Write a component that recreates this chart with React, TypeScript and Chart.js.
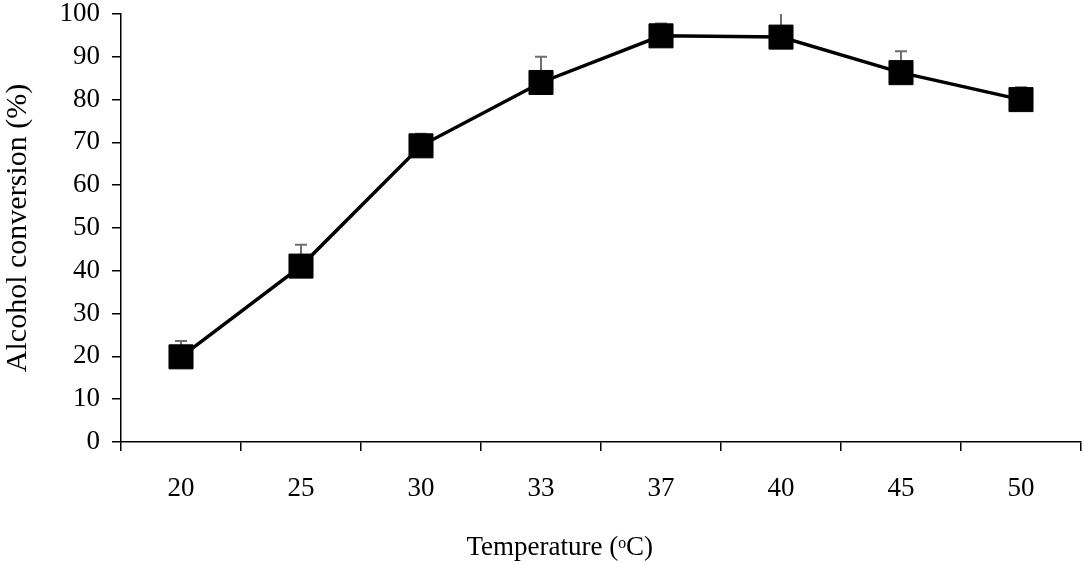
import React, { useEffect, useRef } from "react";
import { Chart, registerables } from "chart.js";

Chart.register(...registerables);

const temperatures = ["20", "25", "30", "33", "37", "40", "45", "50"];
const conversion = [19.9, 41.1, 69.2, 84.0, 94.9, 94.6, 86.3, 80.0];
const conversionErr = [3.7, 5.0, 2.8, 6.0, 2.9, 5.6, 5.0, 2.9];
const yTicks = [0, 10, 20, 30, 40, 50, 60, 70, 80, 90, 100];
const xTitle = "Temperature (ᵒC)";

const FONT = "'Liberation Serif', 'Times New Roman', serif";

// draws the upper error bars behind the markers
const errorBars = {
  id: "errorBars",
  beforeDatasetsDraw(chart: any) {
    const { ctx, scales } = chart;
    const meta = chart.getDatasetMeta(0);
    ctx.save();
    ctx.strokeStyle = "#6e6e6e";
    ctx.lineWidth = 2;
    meta.data.forEach((pt: any, i: number) => {
      const x = pt.x;
      const y0 = scales.y.getPixelForValue(conversion[i]);
      const top = Math.min(conversion[i] + conversionErr[i], 100);
      const y1 = scales.y.getPixelForValue(top);
      ctx.beginPath();
      ctx.moveTo(x, y0);
      ctx.lineTo(x, y1);
      if (conversion[i] + conversionErr[i] <= 100) {
        ctx.moveTo(x - 6, y1);
        ctx.lineTo(x + 6, y1);
      }
      ctx.stroke();
    });
    ctx.restore();
  },
};

// x title sits a bit left of the plot centre in the original
const xAxisTitle = {
  id: "xAxisTitle",
  afterDraw(chart: any) {
    const { ctx, chartArea } = chart;
    ctx.save();
    ctx.font = `27px ${FONT}`;
    ctx.fillStyle = "#000";
    ctx.textAlign = "center";
    ctx.textBaseline = "middle";
    ctx.fillText(xTitle, chartArea.left + (chartArea.right - chartArea.left) * 0.457, 548);
    ctx.restore();
  },
};

export default function App() {
  const canvasRef = useRef<HTMLCanvasElement>(null);

  useEffect(() => {
    if (!canvasRef.current) return;
    document.body.style.margin = "0";
    document.body.style.overflow = "hidden";
    const chart = new Chart(canvasRef.current, {
      type: "line",
      data: {
        labels: temperatures,
        datasets: [
          {
            data: conversion,
            borderColor: "#000",
            borderWidth: 3.5,
            pointStyle: "rect",
            pointRadius: 17,
            pointBackgroundColor: "#000",
            pointBorderColor: "#000",
            pointBorderWidth: 1,
            tension: 0,
            clip: false,
          },
        ],
      },
      options: {
        animation: false,
        responsive: false,
        layout: { autoPadding: false, padding: { top: 14, right: 3, left: 0, bottom: 0 } },
        plugins: {
          legend: { display: false },
          tooltip: { enabled: false },
        },
        scales: {
          x: {
            offset: true,
            afterFit: (scale: any) => {
              scale.height = 122;
              scale.paddingLeft = 0;
              scale.paddingRight = 0;
            },
            grid: {
              offset: true,
              drawOnChartArea: false,
              color: "#000",
              lineWidth: 1.5,
              tickLength: 9,
            },
            border: { color: "#000", width: 1.5 },
            ticks: {
              color: "#000",
              padding: 22,
              font: { family: FONT, size: 27 },
            },
            title: { display: false },
          },
          y: {
            min: 0,
            max: 100,
            afterFit: (scale: any) => {
              scale.width = 121;
              scale.paddingTop = 0;
              scale.paddingBottom = 0;
            },
            afterBuildTicks: (scale: any) => {
              scale.ticks = yTicks.map((v) => ({ value: v }));
            },
            grid: {
              drawOnChartArea: false,
              color: "#000",
              lineWidth: 1.5,
              tickLength: 9,
            },
            border: { color: "#000", width: 1.5 },
            ticks: {
              color: "#000",
              padding: 12,
              font: { family: FONT, size: 27 },
            },
            title: {
              display: true,
              text: "Alcohol conversion (%)",
              color: "#000",
              padding: { top: 0, bottom: 0 },
              font: { family: FONT, size: 30 },
            },
          },
        },
      },
      plugins: [errorBars, xAxisTitle],
    });
    return () => chart.destroy();
  }, []);

  return (
    <div style={{ position: "absolute", left: 0, top: 0, width: 1084, height: 564, background: "#fff" }}>
      <canvas ref={canvasRef} width={1084} height={564} style={{ display: "block" }} />
    </div>
  );
}
